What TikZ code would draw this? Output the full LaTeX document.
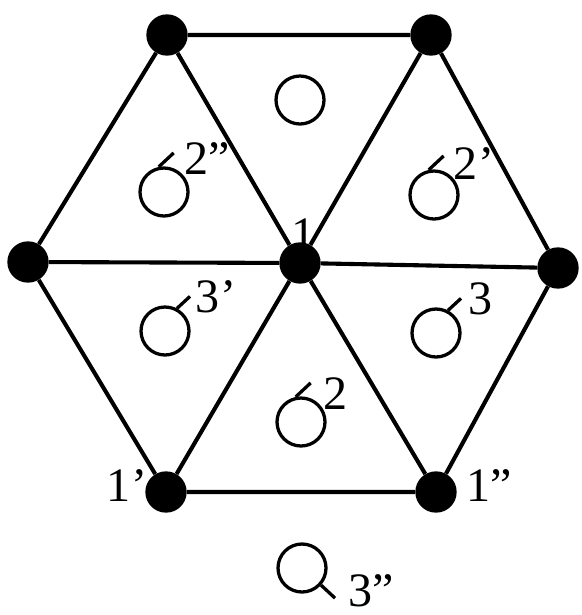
\documentclass[tikz,border=0pt]{standalone}
\usepackage{fontspec}
\setmainfont{Liberation Serif}
\usetikzlibrary{positioning}
\tikzset{
  vertexdot/.style={circle, fill=black, inner sep=0pt, minimum size=1.24cm},
  ringmark/.style={circle, draw=black, line width=2.8pt, inner sep=0pt, minimum size=1.44cm},
  edge/.style={line width=3.5pt},
  tick/.style={line width=2.8pt},
  lbl/.style={font=\fontsize{41}{46}\selectfont, inner sep=0pt, anchor=base},
}
\begin{document}
\begin{tikzpicture}[x=0.03cm, y=-0.03cm]
\useasboundingbox (0,0) rectangle (581,615);
% lattice points
\node[vertexdot] (c)  at (300,263) {};
\node[vertexdot] (tl) at (167,35) {};
\node[vertexdot] (tr) at (431,35) {};
\node[vertexdot] (r)  at (558,268) {};
\node[vertexdot] (br) at (436,492) {};
\node[vertexdot] (bl) at (166,492) {};
\node[vertexdot] (l)  at (28,262) {};
% hexagon and spokes
\draw[edge] (tl) -- (tr) -- (r) -- (br) -- (bl) -- (l) -- (tl);
\foreach \v in {tl,tr,r,br,bl,l}
  \draw[edge] (c) -- (\v);
% rings
\node[ringmark] (o0)  at (300,100) {};
\node[ringmark] (o2a) at (434,195) {};
\node[ringmark] (o2b) at (164,192) {};
\node[ringmark] (o3)  at (436,333) {};
\node[ringmark] (o3a) at (165,331) {};
\node[ringmark] (o2)  at (301,422) {};
\node[ringmark] (o3b) at (302,568) {};
\draw[tick] (o2a.102) -- ++(15,-14);
\draw[tick] (o2b.102) -- ++(15,-14);
\draw[tick] (o2.102) -- ++(15,-14);
\draw[tick] (o3.62) -- ++(13,-12);
\draw[tick] (o3a.62) -- ++(13,-12);
\draw[tick] (o3b.-42) -- ++(14,13);
% labels
\node[lbl] (n1)  at (304,250) {1};
\node[lbl] (n1a) at (127,501) {1'};
\node[lbl] (n1b) at (489,501) {1''};
\node[lbl] (n2)  at (336,409) {2};
\node[lbl] (n2a) at (474,179) {2'};
\node[lbl] (n2b) at (207,174) {2''};
\node[lbl] (n3)  at (481,314) {3};
\node[lbl] (n3a) at (216,312) {3'};
\node[lbl] (n3b) at (371,606) {3''};
\end{tikzpicture}
\end{document}
